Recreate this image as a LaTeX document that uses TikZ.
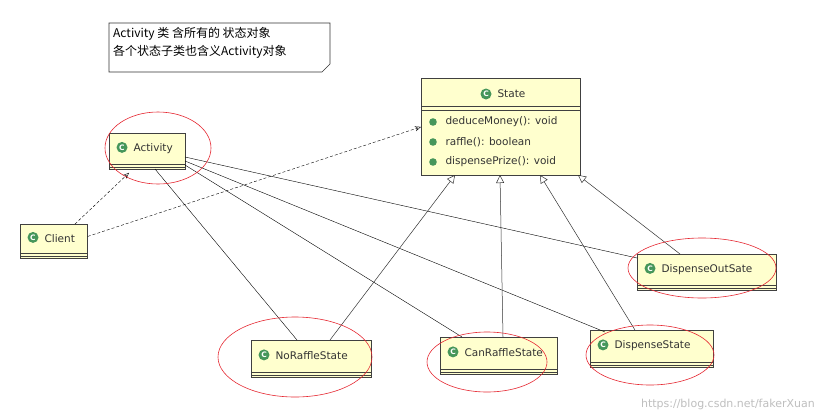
\documentclass[tikz,border=0pt]{standalone}
\usepackage{fontspec}
\setmainfont{DejaVu Sans}
\newfontfamily\cjk{Noto Sans CJK SC}
\usetikzlibrary{arrows.meta,calc}
\definecolor{clsfill}{RGB}{255,255,206}
\definecolor{icongreen}{RGB}{70,150,90}
\definecolor{hand}{RGB}{230,40,50}
\tikzset{
  clsbox/.style={draw=black!75, fill=clsfill, line width=0.8pt, anchor=north west, inner sep=0pt},
  assoc/.style={draw=black, line width=0.4pt},
  inherit/.style={draw=black!80, line width=0.5pt, -{Triangle[open,length=8pt,width=8pt]}},
  dep/.style={draw=black, line width=0.4pt, densely dashed, -{Stealth[open,length=6pt,width=5pt]}},
  circ/.style={draw=hand, line width=0.6pt},
  lbl/.style={font=\fontsize{10.5}{12}\selectfont, text=black!80},
}
\newcommand\icon[1]{\fill[icongreen] (#1) circle (5.5pt); \node[font=\bfseries\fontsize{7.5}{7.5}\selectfont, text=white, inner sep=0pt] at (#1) {C};}
\newcommand\mycls[6]{%
  \node[clsbox, minimum width=#4pt-#2pt, minimum height=#5pt-#3pt] (#1) at (#2,#3) {};
  \draw[black!75, line width=0.6pt] ($(#1.south west)+(0,-6)$) -- ($(#1.south east)+(0,-6)$);
  \draw[black!75, line width=0.6pt] ($(#1.south west)+(0,-3)$) -- ($(#1.south east)+(0,-3)$);
  \icon{$(#1.west)+(13,-4)$}
  \node[lbl, anchor=west] at ($(#1.west)+(21,-3)$) {#6};
}
\begin{document}
\begin{tikzpicture}[x=1pt,y=-1pt]
\useasboundingbox[fill=white] (0,0) rectangle (817,416);
\draw[black!80, fill=white, line width=0.6pt] (109,23) -- (330,23) -- (330,64) -- (322,72) -- (109,72) -- cycle;
\node[anchor=north west, font=\cjk\fontsize{12}{18}\selectfont, align=left, inner sep=0pt] (note) at (113,27) {Activity 类 含所有的 状态对象\\各个状态子类也含义Activity对象};
\mycls{activity}{109}{133}{185}{169}{Activity}
\mycls{client}{20}{224}{87}{258}{Client}
\mycls{noraffle}{251}{340}{371}{377}{NoRaffleState}
\mycls{canraffle}{440}{337}{557}{374}{CanRaffleState}
\mycls{dispense}{590}{330}{713}{367}{DispenseState}
\mycls{dispout}{637}{254}{776}{290}{DispenseOutSate}
\node[clsbox, minimum width=159pt, minimum height=97pt] (state) at (421,78) {};
\draw[black!75, line width=0.6pt] (421,106) -- (580,106);
\draw[black!75, line width=0.6pt] (421,110) -- (580,110);
\icon{486,94}
\node[lbl, anchor=west] at (494,94) {State};
\foreach \y/\t in {122/{deduceMoney(): void},142/{raffle(): boolean},162/{dispensePrize(): void}} {
  \fill[icongreen] (433,\y) circle (3.8pt);
  \node[lbl, anchor=west] at (442,\y) {\t};
}
\coordinate (a1) at (155,169); \coordinate (a2) at (185,161); \coordinate (a3) at (185,165); \coordinate (a4) at (185,157);
\draw[assoc] (a1) -- ($(noraffle.north west)+(46,0)$);
\draw[assoc] (a3) -- ($(canraffle.north west)+(22,0)$);
\draw[assoc] (a2) -- ($(dispense.north west)+(15,2)$);
\draw[assoc] (a4) -- ($(dispout.north west)+(0,4)$);
\draw[inherit] ($(noraffle.north west)+(79,0)$) -- (455,175);
\draw[inherit] ($(canraffle.north west)+(63,0)$) -- (500,175);
\draw[inherit] ($(dispense.north west)+(45,0)$) -- (540,175);
\draw[inherit] ($(dispout.north west)+(43,0)$) -- (578,175);
\draw[dep] ($(client.north west)+(55,0)$) -- ($(activity.south west)+(20,3)$);
\draw[dep] ($(client.east)+(0,-5)$) -- (state.west);
\draw[circ] (158,148) ellipse (53pt and 36pt);
\draw[circ] (295,357) ellipse (77pt and 40pt);
\draw[circ] (487,362) ellipse (60pt and 30pt);
\draw[circ] (650,355) ellipse (64pt and 30pt);
\draw[circ] (702,268) ellipse (74pt and 30pt);
\node[anchor=south east, text=black!25, font=\fontsize{11}{11}\selectfont, inner sep=2pt] (wm) at (817,412) {https://blog.csdn.net/fakerXuan};
\end{tikzpicture}
\end{document}
